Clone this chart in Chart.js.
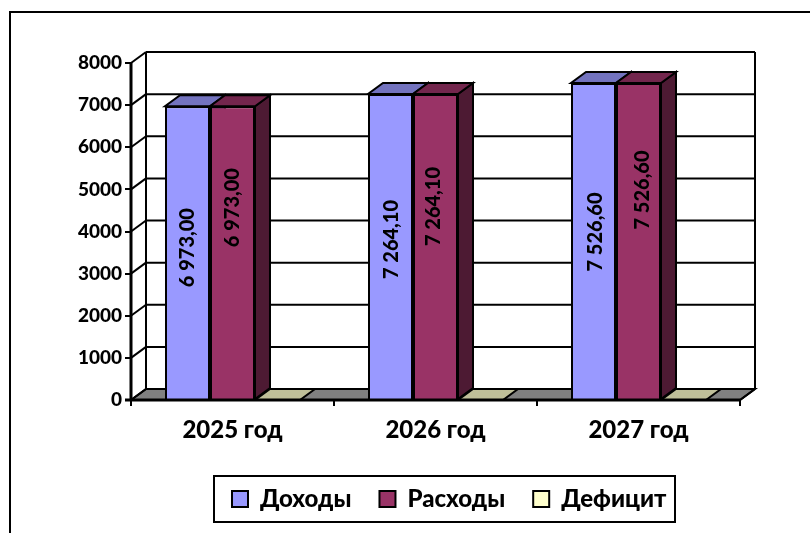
<!DOCTYPE html>
<html>
<head>
<meta charset="utf-8">
<style>
    html, body { margin: 0; padding: 0; background: #fff; overflow: hidden; }
    #wrap { width: 810px; height: 533px; position: relative; }
    canvas { display: block; }
</style>
<script src="https://cdn.jsdelivr.net/npm/chart.js@4"></script>
</head>
<body>
<div id="wrap"><canvas id="budgetChart" width="810" height="533"></canvas></div>
<script>
    var categories = ['2025 год', '2026 год', '2027 год'];
    var incomeValues = [6973.0, 7264.1, 7526.6];
    var expenseValues = [6973.0, 7264.1, 7526.6];
    var deficitValues = [0, 0, 0];
    var tickLabels = [0, 1000, 2000, 3000, 4000, 5000, 6000, 7000, 8000];

    var FONT = 'Lato, "Open Sans", sans-serif';
    var DEPTH_X = 15;
    var DEPTH_Y = -11;
    var INK = '#000000';

    // the value labels were dragged by hand in the original, [dx, dy] from the bar middle
    var labelNudge = [
        [[0, -5], [1, -7], [2, -9]],
        [[0, -45], [-2, -40], [4, -51]]
    ];

    // excel's shading for the 3d faces of a column
    function shade(hex, k) {
        var n = parseInt(hex.slice(1), 16);
        var r = Math.round((n >> 16 & 255) * k);
        var g = Math.round((n >> 8 & 255) * k);
        var b = Math.round((n & 255) * k);
        return 'rgb(' + r + ',' + g + ',' + b + ')';
    }

    function poly(ctx, pts, fill) {
        ctx.beginPath();
        ctx.moveTo(pts[0][0], pts[0][1]);
        for (var i = 1; i < pts.length; i++) ctx.lineTo(pts[i][0], pts[i][1]);
        ctx.closePath();
        if (fill) {
            ctx.fillStyle = fill;
            ctx.fill();
        }
        ctx.stroke();
    }

    function line(ctx, x1, y1, x2, y2) {
        ctx.beginPath();
        ctx.moveTo(x1, y1);
        ctx.lineTo(x2, y2);
        ctx.stroke();
    }

    function formatValue(v) {
        var s = v.toFixed(2).replace('.', ',');
        return s.replace(/\B(?=(\d{3})(?!\d))/g, ' ');
    }

    var frame3d = {
        id: 'frame3d',
        afterLayout: function (chart) {
            // move the legend to where its frame sits
            var lg = chart.legend;
            lg.left = 204;
            lg.right = 820;
            lg.top = 459;
            lg.bottom = 538;
        },
        beforeDraw: function (chart) {
            var ctx = chart.ctx;
            ctx.save();
            ctx.strokeStyle = INK;
            ctx.lineWidth = 2;
            // outer frame runs off the right and bottom of the picture
            ctx.strokeRect(10, 12, 820, 540);
            ctx.strokeRect(214, 476, 461, 46);
            ctx.restore();
        },
        beforeDatasetsDraw: function (chart) {
            var ctx = chart.ctx;
            var a = chart.chartArea;
            var y = chart.scales.y;
            ctx.save();
            ctx.strokeStyle = INK;
            ctx.lineWidth = 2;
            // floor
            poly(ctx, [[a.left, a.bottom], [a.right, a.bottom],
                [a.right + DEPTH_X, a.bottom + DEPTH_Y], [a.left + DEPTH_X, a.bottom + DEPTH_Y]], '#808080');
            // walls and gridlines
            tickLabels.forEach(function (v) {
                var py = y.getPixelForValue(v);
                line(ctx, a.left, py, a.left + DEPTH_X, py + DEPTH_Y);
                line(ctx, a.left + DEPTH_X, py + DEPTH_Y, a.right + DEPTH_X, py + DEPTH_Y);
            });
            line(ctx, a.left + DEPTH_X, a.top + DEPTH_Y, a.left + DEPTH_X, a.bottom + DEPTH_Y);
            line(ctx, a.right + DEPTH_X, a.top + DEPTH_Y, a.right + DEPTH_X, a.bottom + DEPTH_Y);
            line(ctx, a.right, a.bottom, a.right + DEPTH_X, a.bottom + DEPTH_Y);
            // side and top faces, fronts are drawn by the bar elements
            chart.data.datasets.forEach(function (ds, di) {
                chart.getDatasetMeta(di).data.forEach(function (bar) {
                    var half = bar.width / 2;
                    var l = bar.x - half;
                    var r = bar.x + half;
                    if (bar.base - bar.y > 1) {
                        poly(ctx, [[r, bar.y], [r + DEPTH_X, bar.y + DEPTH_Y],
                            [r + DEPTH_X, bar.base + DEPTH_Y], [r, bar.base]], shade(ds.backgroundColor, 0.5));
                    }
                    poly(ctx, [[l, bar.y], [r, bar.y], [r + DEPTH_X, bar.y + DEPTH_Y],
                        [l + DEPTH_X, bar.y + DEPTH_Y]], shade(ds.backgroundColor, 0.75));
                });
            });
            ctx.restore();
        },
        afterDatasetsDraw: function (chart) {
            var ctx = chart.ctx;
            var a = chart.chartArea;
            ctx.save();
            ctx.strokeStyle = INK;
            ctx.lineWidth = 3;
            line(ctx, a.left, a.top, a.left, a.bottom);
            line(ctx, a.left - 6, a.bottom, a.right, a.bottom);
            ctx.restore();
            // value labels, rotated
            ctx.save();
            ctx.fillStyle = INK;
            ctx.font = '900 20px ' + FONT;
            ctx.textAlign = 'center';
            ctx.textBaseline = 'middle';
            chart.data.datasets.forEach(function (ds, di) {
                chart.getDatasetMeta(di).data.forEach(function (bar, i) {
                    if (!ds.data[i]) return;
                    var mid = (bar.y + bar.base) / 2;
                    var nudge = labelNudge[di][i];
                    ctx.save();
                    ctx.translate(bar.x + nudge[0], mid + nudge[1]);
                    ctx.rotate(-Math.PI / 2);
                    ctx.fillText(formatValue(ds.data[i]), 0, 0);
                    ctx.restore();
                });
            });
            ctx.restore();
        }
    };

    function makeSet(label, data, color) {
        return {
            label: label,
            data: data,
            backgroundColor: color,
            borderColor: INK,
            borderWidth: 2,
            categoryPercentage: 0.665,
            barPercentage: 1
        };
    }

    new Chart(document.getElementById('budgetChart').getContext('2d'), {
        type: 'bar',
        data: {
            labels: categories,
            datasets: [
                makeSet('Доходы', incomeValues, '#9999FF'),
                makeSet('Расходы', expenseValues, '#993366'),
                makeSet('Дефицит', deficitValues, '#FFFFCC')
            ]
        },
        options: {
            responsive: false,
            animation: false,
            layout: { padding: { top: 63, right: 70, bottom: 0, left: 0 } },
            plugins: {
                tooltip: { enabled: false },
                legend: {
                    position: 'bottom',
                    align: 'start',
                    labels: {
                        color: INK,
                        boxWidth: 16,
                        boxHeight: 16,
                        padding: 28,
                        font: { family: FONT, size: 24, weight: '900' }
                    }
                }
            },
            scales: {
                y: {
                    min: 0,
                    max: 8000,
                    afterFit: function (s) { s.width = 131; },
                    afterBuildTicks: function (s) {
                        s.ticks = tickLabels.map(function (v) { return { value: v }; });
                    },
                    border: { display: false },
                    grid: { drawOnChartArea: false, color: INK, lineWidth: 2, tickLength: 6 },
                    ticks: {
                        color: INK,
                        padding: 3,
                        font: { family: FONT, size: 19, weight: '900' },
                        callback: function (v) { return String(v); }
                    }
                },
                x: {
                    afterFit: function (s) { s.height = 71; },
                    border: { display: false },
                    grid: { drawOnChartArea: false, color: INK, lineWidth: 2, tickLength: 6 },
                    ticks: { color: INK, padding: 10, font: { family: FONT, size: 24, weight: '900' } }
                }
            }
        },
        plugins: [frame3d]
    });
</script>
</body>
</html>
